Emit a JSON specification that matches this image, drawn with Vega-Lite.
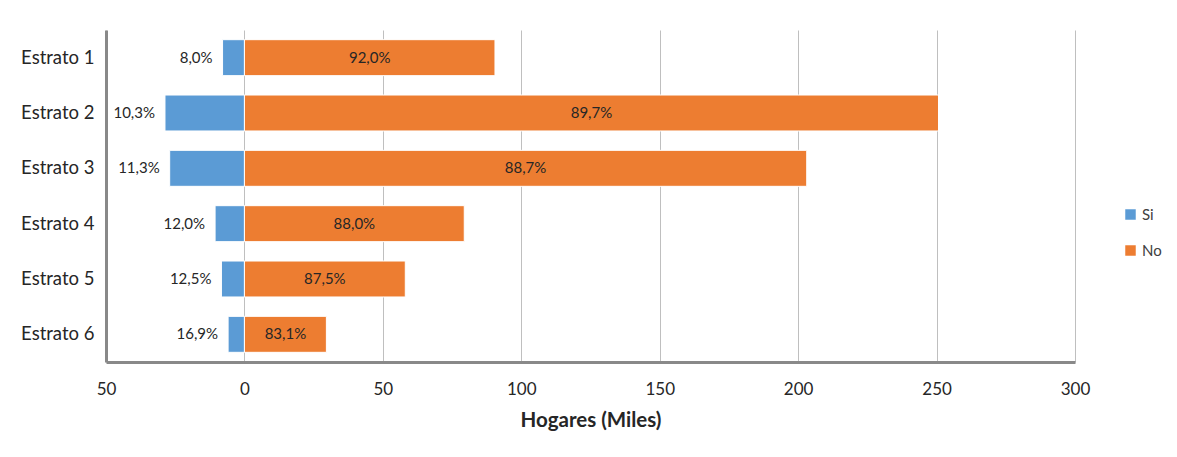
{
  "$schema": "https://vega.github.io/schema/vega-lite/v6.json",
  "width": 969,
  "height": 332,
  "autosize": {"type": "none"},
  "padding": {"left": 106, "top": 30, "right": 102, "bottom": 95},
  "background": "white",
  "config": {
    "font": "Lato",
    "view": {"stroke": null}
  },
  "data": {
    "values": [
      {"estrato": "Estrato 1", "grupo": "Si", "value": -7.9, "pct": "8,0%"},
      {"estrato": "Estrato 1", "grupo": "No", "value": 90.5, "pct": "92,0%"},
      {"estrato": "Estrato 2", "grupo": "Si", "value": -28.7, "pct": "10,3%"},
      {"estrato": "Estrato 2", "grupo": "No", "value": 250.7, "pct": "89,7%"},
      {"estrato": "Estrato 3", "grupo": "Si", "value": -27.0, "pct": "11,3%"},
      {"estrato": "Estrato 3", "grupo": "No", "value": 203.1, "pct": "88,7%"},
      {"estrato": "Estrato 4", "grupo": "Si", "value": -10.6, "pct": "12,0%"},
      {"estrato": "Estrato 4", "grupo": "No", "value": 79.4, "pct": "88,0%"},
      {"estrato": "Estrato 5", "grupo": "Si", "value": -8.3, "pct": "12,5%"},
      {"estrato": "Estrato 5", "grupo": "No", "value": 58.1, "pct": "87,5%"},
      {"estrato": "Estrato 6", "grupo": "Si", "value": -5.9, "pct": "16,9%"},
      {"estrato": "Estrato 6", "grupo": "No", "value": 29.6, "pct": "83,1%"}
    ]
  },
  "encoding": {
    "y": {
      "field": "estrato",
      "type": "nominal",
      "sort": null,
      "scale": {"paddingInner": 0.35, "paddingOuter": 0.175},
      "axis": {
        "title": null,
        "ticks": false,
        "domainColor": "#898989",
        "domainWidth": 3,
        "labelFont": "Lato",
        "labelFontSize": 18.5,
        "labelColor": "#262626",
        "labelPadding": 12
      }
    }
  },
  "layer": [
    {
      "mark": {"type": "bar", "stroke": "white", "strokeWidth": 1},
      "encoding": {
        "x": {
          "field": "value",
          "type": "quantitative",
          "stack": null,
          "scale": {"domain": [-50, 300], "nice": false, "zero": false},
          "axis": {
            "values": [-50, 0, 50, 100, 150, 200, 250, 300],
            "labelExpr": "format(abs(datum.value), 'd')",
            "labelFlush": false,
            "title": "Hogares (Miles)",
            "titleFont": "Lato",
            "titleFontSize": 20.5,
            "titleFontWeight": "bold",
            "titleColor": "#262626",
            "titlePadding": 13,
            "ticks": false,
            "labelPadding": 19,
            "labelFont": "Lato",
            "labelFontSize": 17,
            "labelColor": "#262626",
            "domainColor": "#898989",
            "domainWidth": 3,
            "grid": true,
            "gridColor": "#BFBFBF",
            "gridWidth": 1
          }
        },
        "x2": {"datum": 0},
        "color": {
          "field": "grupo",
          "type": "nominal",
          "sort": ["Si", "No"],
          "scale": {"domain": ["Si", "No"], "range": ["#5B9BD5", "#ED7D31"]},
          "legend": {
            "title": null,
            "orient": "none",
            "legendX": 1017,
            "legendY": 177,
            "symbolType": "square",
            "symbolSize": 110,
            "symbolStrokeWidth": 0,
            "labelFont": "Lato",
            "labelFontSize": 15,
            "labelColor": "#404040",
            "rowPadding": 20,
            "labelOffset": 4
          }
        }
      }
    },
    {
      "transform": [{"filter": "datum.grupo === 'Si'"}],
      "mark": {"type": "text", "align": "right", "baseline": "middle", "dx": -10, "fontSize": 15, "font": "Lato", "color": "#262626"},
      "encoding": {
        "x": {"field": "value", "type": "quantitative"},
        "text": {"field": "pct"}
      }
    },
    {
      "transform": [
        {"filter": "datum.grupo === 'No'"},
        {"calculate": "datum.value / 2", "as": "mid"}
      ],
      "mark": {"type": "text", "align": "center", "baseline": "middle", "fontSize": 15, "font": "Lato", "color": "#262626"},
      "encoding": {
        "x": {"field": "mid", "type": "quantitative"},
        "text": {"field": "pct"}
      }
    }
  ]
}
